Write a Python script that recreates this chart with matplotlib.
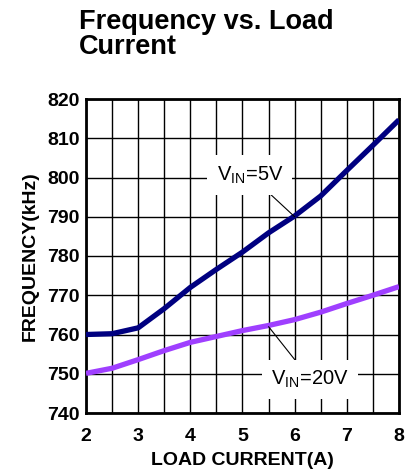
import matplotlib
matplotlib.use("Agg")
import matplotlib.pyplot as plt
import numpy as np

plt.rcParams['font.family'] = ['Liberation Sans', 'DejaVu Sans']
plt.rcParams['mathtext.fontset'] = 'custom'
plt.rcParams['mathtext.rm'] = 'Liberation Sans'
plt.rcParams['mathtext.it'] = 'Liberation Sans'
plt.rcParams['mathtext.bf'] = 'Liberation Sans:bold'

# Data
load_current = [2.0, 2.5, 3.0, 3.5, 4.0, 4.5, 5.0, 5.5, 6.0, 6.5, 7.0, 7.5, 8.0]
freq_vin5 = [760.0, 760.2, 761.7, 766.6, 772.0, 776.6, 781.0, 785.9, 790.2, 795.3, 801.8, 808.2, 814.7]
freq_vin20 = [750.1, 751.4, 753.6, 755.9, 758.0, 759.5, 761.0, 762.3, 763.8, 765.7, 767.9, 770.0, 772.2]
x_ticks = [2, 3, 4, 5, 6, 7, 8]
y_ticks = [740, 750, 760, 770, 780, 790, 800, 810, 820]

W, H = 406, 472
fig = plt.figure(figsize=(W / 100, H / 100), dpi=100)
L, R, T, B = 86, 399, 99, 413
ax = fig.add_axes([L / W, 1 - B / H, (R - L) / W, (B - T) / H])

ax.set_xlim(2, 8)
ax.set_ylim(740, 820)
ax.set_xticks(np.arange(2, 8.01, 0.5), minor=True)
ax.set_xticks(x_ticks)
ax.set_yticks(y_ticks)
ax.set_xticklabels([str(v) for v in x_ticks], fontsize=14, fontweight='bold')
ax.set_yticklabels([str(v) for v in y_ticks], fontsize=14, fontweight='bold')
ax.tick_params(axis='x', which='both', length=0, pad=10.5)
ax.tick_params(axis='y', which='both', length=0, pad=4.5)
ax.grid(True, which='both', color='black', linewidth=1.0)
ax.set_axisbelow(True)
for s in ax.spines.values():
    s.set_linewidth(2)
    s.set_color('black')

ax.plot(load_current, freq_vin5, color='#000080', linewidth=3.8, solid_capstyle='butt', zorder=3)
ax.plot(load_current, freq_vin20, color='#9f3fff', linewidth=3.8, solid_capstyle='butt', zorder=3)

ax.set_xlabel('LOAD CURRENT(A)', fontsize=14, fontweight='bold', labelpad=5)
ax.set_ylabel('FREQUENCY(kHz)', fontsize=14, fontweight='bold', labelpad=6)

bbox = dict(boxstyle='square,pad=0.45', facecolor='white', edgecolor='none')
ax.annotate(r'V$_{\mathrm{IN}}$=5V', xy=(6.0, 790.0), xytext=(5.14, 800.6),
            fontsize=14.5, ha='center', va='center', bbox=bbox,
            arrowprops=dict(arrowstyle='-', color='black', lw=0.8, shrinkA=0, shrinkB=0),
            zorder=4)
ax.annotate(r'V$_{\mathrm{IN}}$=20V', xy=(5.5, 762.0), xytext=(6.3, 748.6),
            fontsize=14.5, ha='center', va='center', bbox=bbox,
            arrowprops=dict(arrowstyle='-', color='black', lw=0.8, shrinkA=0, shrinkB=0),
            zorder=4)

fig.text(79 / W, 1 - 9 / H, 'Frequency vs. Load\nCurrent', fontsize=19.5, fontweight='bold',
         ha='left', va='top', linespacing=0.95)

fig.savefig('out.png', dpi=100)
